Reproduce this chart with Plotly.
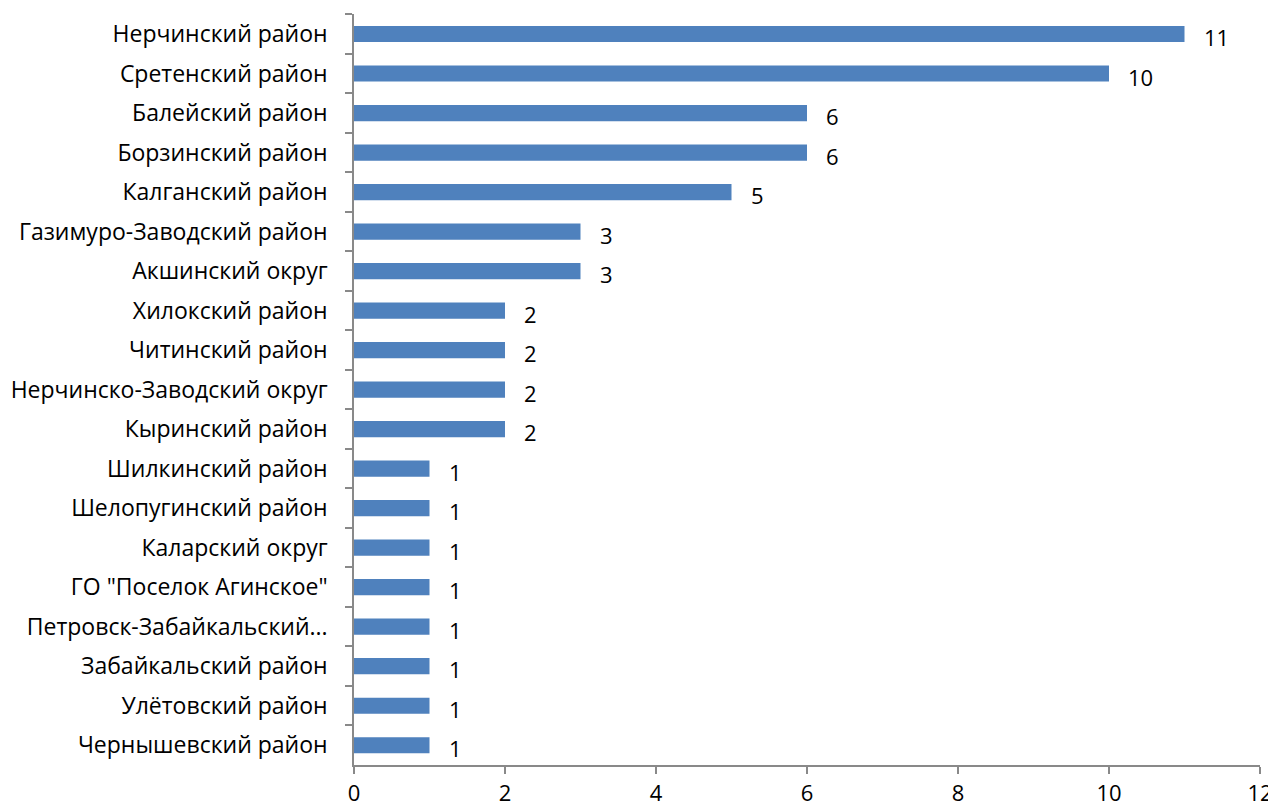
import plotly.graph_objects as go

categories = [
    "Нерчинский район", "Сретенский район", "Балейский район", "Борзинский район",
    "Калганский район", "Газимуро-Заводский район", "Акшинский округ", "Хилокский район",
    "Читинский район", "Нерчинско-Заводский округ", "Кыринский район", "Шилкинский район",
    "Шелопугинский район", "Каларский округ", "ГО \"Поселок Агинское\"",
    "Петровск-Забайкальский...", "Забайкальский район", "Улётовский район", "Чернышевский район",
]
values = [11, 10, 6, 6, 5, 3, 3, 2, 2, 2, 2, 1, 1, 1, 1, 1, 1, 1, 1]
x_ticks = [0, 2, 4, 6, 8, 10, 12]

FONT = "Open Sans"

fig = go.Figure(go.Bar(
    x=values, y=categories, orientation="h",
    marker=dict(color="#4F81BD", line=dict(width=0)),
    width=0.41,
))

for c, v in zip(categories, values):
    fig.add_annotation(x=v, y=c, text=str(v), showarrow=False, xanchor="left",
                       xshift=17, yshift=-3,
                       font=dict(family=FONT, size=22, color="black"))

fig.update_layout(
    width=1268, height=799,
    margin=dict(l=346, r=16, t=6, b=42),
    plot_bgcolor="white", paper_bgcolor="white",
    showlegend=False,
    font=dict(family=FONT, size=22, color="black"),
    xaxis=dict(range=[0, 12], tickvals=x_ticks, showgrid=False, zeroline=False,
               automargin=False,
               showline=True, linecolor="#898989", linewidth=1.5,
               ticks="outside", ticklen=7, tickcolor="#898989", tickwidth=1.5,
               ticklabelstandoff=1,
               tickfont=dict(family=FONT, size=22, color="black")),
    yaxis=dict(autorange="reversed", showgrid=False, showline=True, automargin=False,
               linecolor="#898989", linewidth=1.5, ticks="outside", ticklen=7,
               tickson="boundaries", tickcolor="#898989", tickwidth=1.5,
               ticklabelstandoff=20,
               tickfont=dict(family=FONT, size=23, color="black")),
)

fig.write_html("out.html")
